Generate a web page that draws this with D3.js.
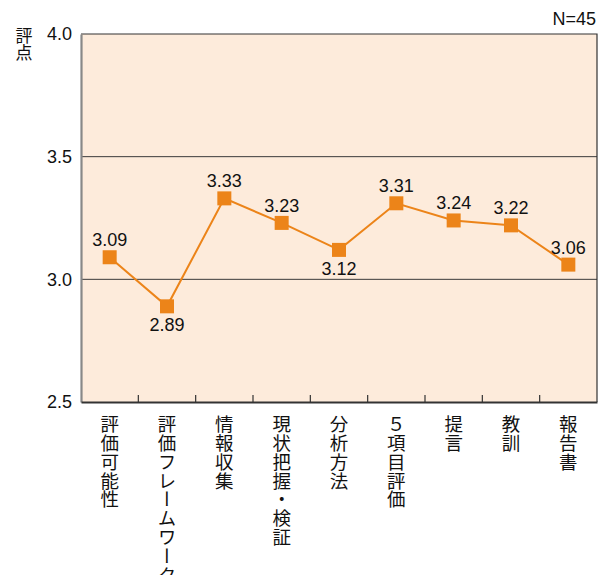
<!DOCTYPE html>
<html>
<head>
<meta charset="utf-8">
<script src="https://cdn.jsdelivr.net/npm/d3@7"></script>
<style>
  html, body { margin: 0; padding: 0; background: #fff; }
  svg { display: block; }
  .num { font-family: "Liberation Sans", Arial, sans-serif; }
  .jp { font-family: "Noto Sans CJK JP", sans-serif; }
</style>
</head>
<body>
<svg id="chart" width="606" height="575"></svg>
<script>
// Evaluation items (x axis) and their mean scores
const categories = ["評価可能性", "評価フレームワーク", "情報収集", "現状把握・検証", "分析方法", "５項目評価", "提言", "教訓", "報告書"];
const scores = [3.09, 2.89, 3.33, 3.23, 3.12, 3.31, 3.24, 3.22, 3.06];
// Labels placed under the point instead of above
const labelBelow = [false, true, false, false, true, false, false, false, false];
const yTicks = [2.5, 3.0, 3.5, 4.0];
const yLabel = "評点";
const sampleNote = "N=45";

const svg = d3.select("#chart");
const margin = { left: 81, right: 9, top: 34, bottom: 173 };
const W = 606, H = 575;
const x0 = margin.left, x1 = W - margin.right;
const y0 = H - margin.bottom, y1 = margin.top;

const x = d3.scaleBand().domain(categories).range([x0, x1]).padding(0);
const y = d3.scaleLinear().domain([2.5, 4.0]).range([y0, y1]);

// plot background
svg.append("rect")
  .attr("x", x0).attr("y", y1)
  .attr("width", x1 - x0).attr("height", y0 - y1)
  .attr("fill", "#fdebdb");

// horizontal grid lines
svg.append("g").selectAll("line")
  .data(yTicks.filter(t => t > 2.5 && t < 4.0))
  .join("line")
  .attr("x1", x0).attr("x2", x1)
  .attr("y1", d => y(d)).attr("y2", d => y(d))
  .attr("stroke", "#3a3a3a").attr("stroke-width", 1);

// frame: top and right
svg.append("path")
  .attr("d", `M${x0},${y1}H${x1}V${y0}`)
  .attr("fill", "none").attr("stroke", "#333").attr("stroke-width", 1.2);

// y axis
const yAxis = d3.axisLeft(y).tickValues(yTicks).tickFormat(d3.format(".1f")).tickSize(0).tickPadding(9);
const gy = svg.append("g").attr("transform", `translate(${x0},0)`).call(yAxis);
gy.select(".domain").attr("stroke", "#888").attr("stroke-width", 2.2);
gy.selectAll("text").attr("class", "num").attr("font-size", 18).attr("fill", "#111");

// x axis with ticks at category boundaries pointing up
const xAxis = d3.axisBottom(x).tickSize(0).tickFormat("");
const gx = svg.append("g").attr("transform", `translate(0,${y0})`).call(xAxis);
gx.select(".domain").attr("stroke", "#333").attr("stroke-width", 2);
gx.selectAll(".tick").remove();
svg.append("g").selectAll("line")
  .data(categories.slice(1))
  .join("line")
  .attr("x1", d => x(d)).attr("x2", d => x(d))
  .attr("y1", y0).attr("y2", y0 - 7)
  .attr("stroke", "#333").attr("stroke-width", 1.2);

// category labels, set vertically
svg.append("g").selectAll("text")
  .data(categories)
  .join("text")
  .attr("class", "jp")
  .attr("x", d => x(d) + x.bandwidth() / 2)
  .attr("y", y0 + 13)
  .attr("font-size", 18.5)
  .attr("letter-spacing", 0.3)
  .attr("fill", "#111")
  .style("writing-mode", "vertical-rl")
  .style("text-orientation", "upright")
  .text(d => d);

// line
const cx = (d, i) => x(categories[i]) + x.bandwidth() / 2;
svg.append("path")
  .datum(scores)
  .attr("fill", "none")
  .attr("stroke", "#ec8419")
  .attr("stroke-width", 2)
  .attr("d", d3.line().x(cx).y(d => y(d)));

// markers
const ms = 14;
svg.append("g").selectAll("rect")
  .data(scores)
  .join("rect")
  .attr("x", (d, i) => cx(d, i) - ms / 2)
  .attr("y", d => y(d) - ms / 2)
  .attr("width", ms).attr("height", ms)
  .attr("fill", "#ec8419");

// value labels
svg.append("g").selectAll("text")
  .data(scores)
  .join("text")
  .attr("class", "num")
  .attr("x", (d, i) => cx(d, i))
  .attr("y", (d, i) => labelBelow[i] ? y(d) + 25 : y(d) - 11)
  .attr("text-anchor", "middle")
  .attr("font-size", 18)
  .attr("fill", "#111")
  .text(d => d.toFixed(2));

// y axis title
svg.append("text")
  .attr("class", "jp")
  .attr("x", 24).attr("y", 27)
  .attr("font-size", 17)
  .attr("fill", "#111")
  .style("writing-mode", "vertical-rl")
  .style("text-orientation", "upright")
  .text(yLabel);

// sample size note
svg.append("text")
  .attr("class", "num")
  .attr("x", 596).attr("y", 25)
  .attr("text-anchor", "end")
  .attr("font-size", 18)
  .attr("fill", "#111")
  .text(sampleNote);
</script>
</body>
</html>
